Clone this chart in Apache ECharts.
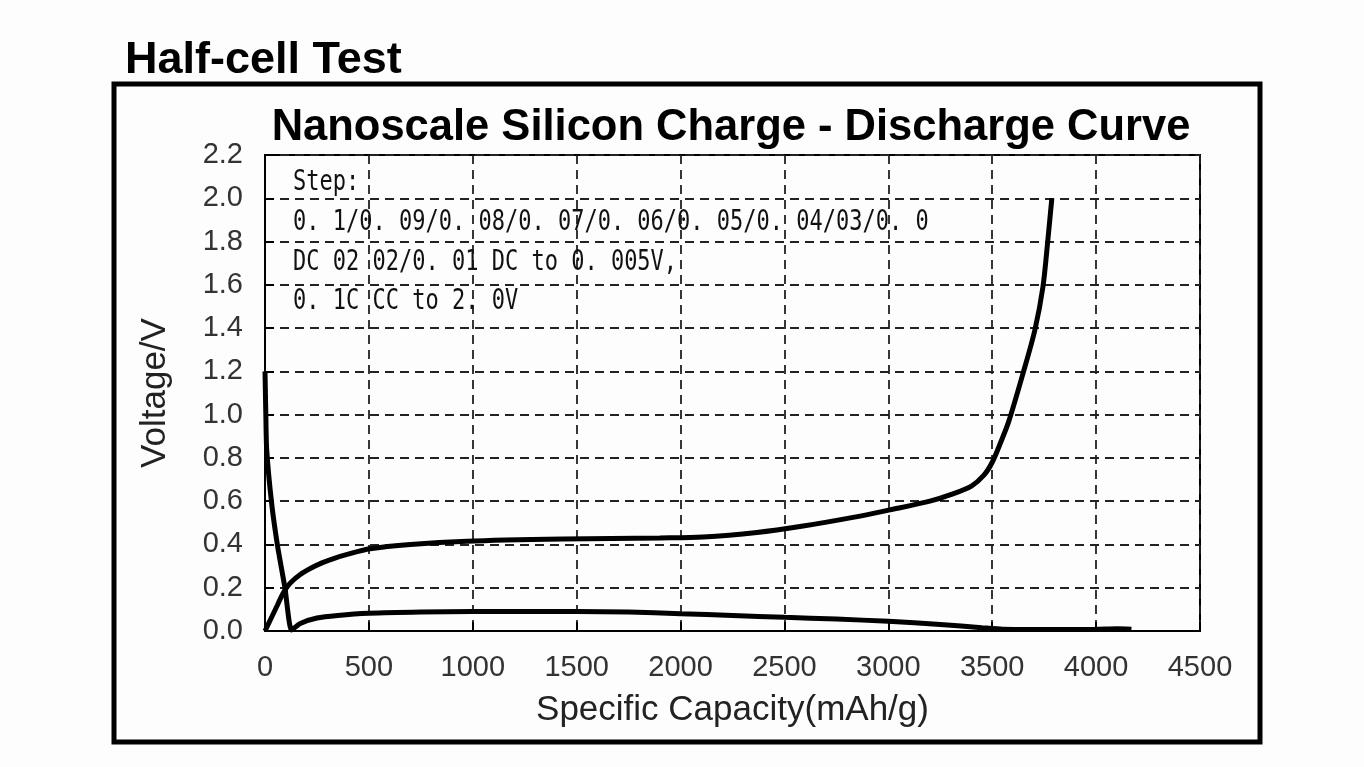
<!DOCTYPE html>
<html>
<head>
<meta charset="utf-8">
<title>Half-cell Test</title>
<script src="https://cdn.jsdelivr.net/npm/echarts@6/dist/echarts.min.js"></script>
<style>
  html, body { margin: 0; padding: 0; background: #fdfdfd; }
  #chart { width: 1364px; height: 767px; }
</style>
</head>
<body>
<div id="chart"></div>
<script>
// capacity (mAh/g) / voltage (V) pairs
const dischargeCap = [0, 4, 8, 32, 61, 96, 128, 170, 250, 350, 500, 750, 1000, 1500, 1750, 2000, 2250, 2500, 2750, 3000, 3250, 3450, 3550, 3800, 4000, 4100, 4170];
const dischargeV   = [1.2, 1.0, 0.84, 0.59, 0.39, 0.2, 0.005, 0.035, 0.06, 0.072, 0.082, 0.088, 0.09, 0.09, 0.088, 0.08, 0.072, 0.063, 0.055, 0.045, 0.03, 0.015, 0.008, 0.007, 0.008, 0.01, 0.008];

const chargeCap = [0, 30, 60, 87, 120, 168, 220, 274, 330, 400, 505, 700, 972, 1434, 1900, 2108, 2367, 2590, 2830, 3008, 3200, 3300, 3400, 3460, 3500, 3540, 3580, 3648, 3705, 3744, 3768, 3787];
const chargeV   = [0, 0.06, 0.12, 0.175, 0.22, 0.26, 0.29, 0.315, 0.335, 0.355, 0.38, 0.4, 0.415, 0.425, 0.43, 0.434, 0.455, 0.485, 0.525, 0.56, 0.6, 0.63, 0.67, 0.72, 0.78, 0.87, 0.97, 1.19, 1.39, 1.59, 1.81, 2.0];

const X_MIN = 0, X_MAX = 4500, X_STEP = 500;
const Y_MIN = 0, Y_MAX = 2.2, Y_STEP = 0.2;

const stepNote = [
  "Step:",
  "0. 1/0. 09/0. 08/0. 07/0. 06/0. 05/0. 04/03/0. 0",
  "DC 02 02/0. 01 DC to 0. 005V,",
  "0. 1C CC to 2. 0V"
];

const pairs = (xs, ys) => xs.map((x, i) => [x, ys[i]]);

const chart = echarts.init(document.getElementById("chart"));

const gridDash = { color: "#222", width: 1.8, type: [9, 6] };

chart.setOption({
  backgroundColor: "#fdfdfd",
  animation: false,
  title: [
    {
      text: "Half-cell Test",
      left: 120,
      top: 33,
      textStyle: { fontFamily: "Liberation Sans", fontWeight: "bold", fontSize: 45, color: "#000" }
    },
    {
      text: "Nanoscale Silicon Charge - Discharge Curve",
      left: 726,
      textAlign: "center",
      top: 101,
      textStyle: { fontFamily: "Liberation Sans", fontWeight: "bold", fontSize: 43.5, color: "#000" }
    }
  ],
  graphic: [
    {
      type: "rect",
      shape: { x: 114, y: 84, width: 1146, height: 658 },
      style: { fill: "none", stroke: "#000", lineWidth: 5 },
      silent: true
    },
    {
      type: "text",
      x: 293,
      y: 163,
      scaleY: 1.32,
      style: {
        text: stepNote.join("\n"),
        font: '22px "DejaVu Sans Mono"',
        lineHeight: 30,
        fill: "#111"
      },
      z: 10
    }
  ],
  grid: {
    left: 265,
    right: 164,
    top: 155,
    bottom: 136,
    show: true,
    borderColor: "#000",
    borderWidth: 2,
    backgroundColor: "transparent"
  },
  xAxis: {
    type: "value",
    min: X_MIN,
    max: X_MAX,
    interval: X_STEP,
    name: "Specific Capacity(mAh/g)",
    nameLocation: "middle",
    nameGap: 62,
    nameTextStyle: { fontFamily: "Liberation Sans", fontSize: 35, color: "#222" },
    axisLine: { lineStyle: { color: "#000", width: 2 } },
    axisTick: { inside: true, length: 9, lineStyle: { color: "#000", width: 2 } },
    axisLabel: {
      fontFamily: "Liberation Sans",
      fontSize: 29,
      color: "#333",
      margin: 22,
      formatter: (v) => String(v)
    },
    splitLine: { show: true, lineStyle: gridDash }
  },
  yAxis: {
    type: "value",
    min: Y_MIN,
    max: Y_MAX,
    interval: Y_STEP,
    name: "Voltage/V",
    nameLocation: "middle",
    nameGap: 92,
    nameTextStyle: { fontFamily: "Liberation Sans", fontSize: 35, color: "#222" },
    axisLine: { show: true, lineStyle: { color: "#000", width: 2 } },
    axisTick: { show: true, inside: true, length: 9, lineStyle: { color: "#000", width: 2 } },
    axisLabel: {
      fontFamily: "Liberation Sans",
      fontSize: 29,
      color: "#333",
      margin: 22,
      formatter: (v) => v.toFixed(1)
    },
    splitLine: { show: true, lineStyle: gridDash }
  },
  series: [
    {
      name: "Discharge",
      type: "line",
      data: pairs(dischargeCap, dischargeV),
      symbol: "none",
      smooth: 0.2,
      lineStyle: { color: "#000", width: 5 },
      z: 5
    },
    {
      name: "Charge",
      type: "line",
      data: pairs(chargeCap, chargeV),
      symbol: "none",
      smooth: 0.3,
      lineStyle: { color: "#000", width: 5 },
      z: 5
    }
  ]
});
</script>
</body>
</html>
